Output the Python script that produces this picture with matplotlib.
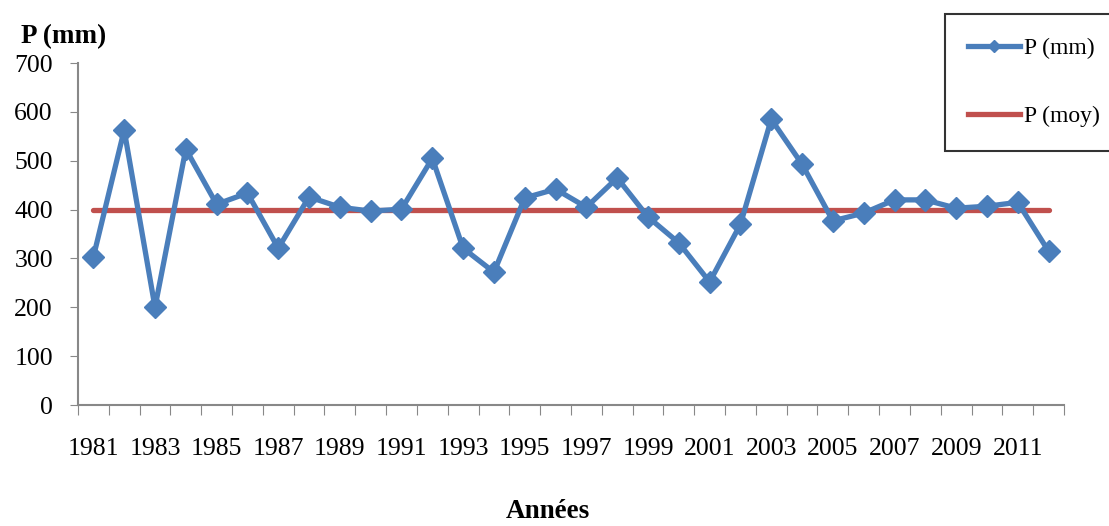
import numpy as np
import matplotlib.pyplot as plt
from matplotlib.lines import Line2D

plt.rcParams['font.family'] = ['Liberation Serif', 'DejaVu Serif']

# Data
years = list(range(1981, 2013))
p_mm = [303, 563, 200, 524, 411, 434, 321, 426, 405, 397,
        401, 505, 321, 272, 424, 442, 405, 465, 385, 332,
        252, 370, 585, 493, 377, 393, 420, 420, 403, 407,
        415, 315]
p_moy = 399
tick_years = list(range(1981, 2012, 2))

blue = '#4A7EBB'
red = '#C0504D'
grey = '#888888'

fig = plt.figure(figsize=(11.09, 5.26), dpi=100)
ax = fig.add_axes([0.0703, 0.230, 0.8891, 0.650])

x = np.arange(len(years))
ax.plot(x, [p_moy] * len(years), color=red, lw=3.8, solid_capstyle='round', zorder=2)
ax.plot(x, p_mm, color=blue, lw=3.8, marker='D', markersize=11.5, zorder=3)

ax.set_xlim(-0.5, len(years) - 0.5)
ax.set_ylim(0, 700)
ax.set_yticks(range(0, 701, 100))
ax.tick_params(axis='y', labelsize=18.5, direction='out', length=6, color=grey, pad=12)

# category boundaries as ticks, labels on every other year
ax.set_xticks(np.arange(-0.5, len(years), 1.0))
ax.set_xticklabels([])
ax.set_xticks([years.index(y) for y in tick_years], minor=True)
ax.set_xticklabels([str(y) for y in tick_years], minor=True)
ax.tick_params(axis='x', which='major', direction='out', length=7, color=grey)
ax.tick_params(axis='x', which='minor', length=0, labelsize=18.5, pad=24)

for s in ['top', 'right']:
    ax.spines[s].set_visible(False)
for s in ['left', 'bottom']:
    ax.spines[s].set_color(grey)
    ax.spines[s].set_linewidth(1.5)

fig.text(0.019, 0.930, 'P (mm)', fontsize=19.5, fontweight='bold', ha='left', va='center')
fig.text(0.494, 0.028, 'Années', fontsize=19.5, fontweight='bold', ha='center', va='center')

handles = [Line2D([], [], color=blue, lw=3.8, marker='D', markersize=6.5),
           Line2D([], [], color=red, lw=3.8)]
leg = fig.legend(handles, ['P (mm)', 'P (moy)'], loc='upper left',
                 bbox_to_anchor=(0.852, 0.973), fontsize=17, frameon=True,
                 fancybox=False, edgecolor='black', handlelength=2.2,
                 handletextpad=0.15, labelspacing=1.95, borderpad=1.0,
                 borderaxespad=0)
leg.get_frame().set_linewidth(1.5)

fig.savefig('out.png', dpi=100)
